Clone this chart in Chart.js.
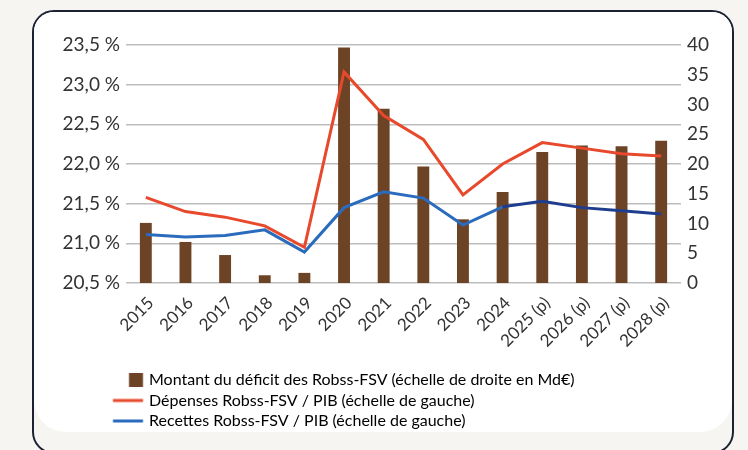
<!DOCTYPE html>
<html>
<head>
<meta charset="utf-8">
<script src="https://cdn.jsdelivr.net/npm/chart.js@4"></script>
<style>
  html, body { margin: 0; padding: 0; }
  body { width: 748px; height: 450px; background: #f6f5f2; position: relative; overflow: hidden; }
  .card { position: absolute; left: 32px; top: 10px; width: 698px; height: 440px;
          border: 2px solid #1d2134; border-radius: 22px; background: #f6f5f2; }
  .inner { position: absolute; left: 0; top: 0; right: 0; height: 420px; background: #fff;
           border-radius: 20px 20px 32px 32px; }
  canvas { position: absolute; left: 0; top: 0; }
</style>
</head>
<body>
<div class="card"><div class="inner"></div></div>
<canvas id="deficitChart" width="748" height="450"></canvas>
<script>
// Données
const annees = ['2015', '2016', '2017', '2018', '2019', '2020', '2021', '2022', '2023', '2024',
                '2025 (p)', '2026 (p)', '2027 (p)', '2028 (p)'];
const deficit = [10.1, 6.9, 4.7, 1.3, 1.7, 39.6, 29.3, 19.6, 10.7, 15.3, 22.0, 23.1, 23.0, 23.9];
const depenses = [21.58, 21.40, 21.33, 21.22, 20.95, 23.16, 22.61, 22.31, 21.61, 22.00, 22.27, 22.20, 22.13, 22.10];
const recettes = [21.11, 21.08, 21.10, 21.17, 20.89, 21.45, 21.65, 21.57, 21.23, 21.46, 21.53, 21.45, 21.41, 21.37];
const ticksGauche = ['20,5 %', '21,0 %', '21,5 %', '22,0 %', '22,5 %', '23,0 %', '23,5 %'];
const libelles = [
    'Montant du déficit des Robss-FSV (échelle de droite en Md€)',
    'Dépenses Robss-FSV / PIB (échelle de gauche)',
    'Recettes Robss-FSV / PIB (échelle de gauche)'
];

const BRUN = '#6d4326';
const ROUGE = '#e8482b';
const BLEU = '#2b6bbd';
const BLEU_FONCE = '#1f3d8e';

Chart.defaults.font.family = "Lato, sans-serif";
Chart.defaults.font.size = 17;
Chart.defaults.color = '#333333';

// Petites images pour la légende (décalées vers la droite)
const LEG_FONT = 16;
const LEG_PAD = 4.5;
const BOX_W = 149 - LEG_PAD - LEG_FONT / 2;
function legendImage(kind, color) {
    const c = document.createElement('canvas');
    c.width = 160; c.height = 16;
    const g = c.getContext('2d');
    const cx = LEG_PAD + BOX_W / 2;
    const off = 80 - cx;
    g.fillStyle = color;
    if (kind === 'square') {
        g.fillRect(129 + off, 1, 14, 14);
    } else {
        g.fillRect(113 + off, 6.5, 30, 3);
    }
    return c;
}
const legendStyles = [legendImage('square', BRUN), legendImage('line', ROUGE), legendImage('line', BLEU)];

const ctx = document.getElementById('deficitChart').getContext('2d');
new Chart(ctx, {
    data: {
        labels: annees,
        datasets: [{
            type: 'bar',
            label: libelles[0],
            data: deficit,
            yAxisID: 'yD',
            backgroundColor: BRUN,
            barPercentage: 0.3,
            categoryPercentage: 1,
            order: 3
        }, {
            type: 'line',
            label: libelles[1],
            data: depenses,
            yAxisID: 'yG',
            borderColor: ROUGE,
            borderWidth: 3,
            pointRadius: 0,
            tension: 0,
            order: 1
        }, {
            type: 'line',
            label: libelles[2],
            data: recettes,
            yAxisID: 'yG',
            borderColor: BLEU,
            borderWidth: 3,
            pointRadius: 0,
            tension: 0,
            segment: {
                borderColor: s => s.p0DataIndex >= 9 ? BLEU_FONCE : BLEU
            },
            order: 2
        }]
    },
    options: {
        responsive: false,
        animation: false,
        layout: { padding: { top: 45, bottom: 11, left: 0, right: 0 } },
        plugins: {
            tooltip: { enabled: false },
            legend: {
                position: 'bottom',
                align: 'start',
                labels: {
                    usePointStyle: true,
                    pointStyleWidth: BOX_W,
                    padding: LEG_PAD,
                    font: { size: LEG_FONT },
                    color: '#333333',
                    generateLabels: () => libelles.map((t, i) => ({
                        text: t,
                        pointStyle: legendStyles[i],
                        fillStyle: 'transparent',
                        strokeStyle: 'transparent',
                        lineWidth: 0,
                        datasetIndex: i,
                        hidden: false
                    }))
                }
            }
        },
        scales: {
            x: {
                grid: { display: false },
                border: { display: false },
                ticks: { minRotation: 45, maxRotation: 45, padding: 2, labelOffset: 5 },
                afterFit: s => { s.height = 84.5; }
            },
            yG: {
                position: 'left',
                min: 20.5,
                max: 23.5,
                grid: { color: '#bdbdbd', lineWidth: 1.5, drawTicks: false },
                border: { display: false },
                ticks: {
                    stepSize: 0.5,
                    padding: 6,
                    font: { size: 19 },
                    callback: (v, i) => ticksGauche[i]
                },
                afterFit: s => { s.width = 126; }
            },
            yD: {
                position: 'right',
                min: 0,
                max: 40,
                grid: { display: false, drawTicks: false },
                border: { display: false },
                ticks: { stepSize: 5, padding: 6, font: { size: 19 } },
                afterFit: s => { s.width = 67; }
            }
        }
    }
});
</script>
</body>
</html>
